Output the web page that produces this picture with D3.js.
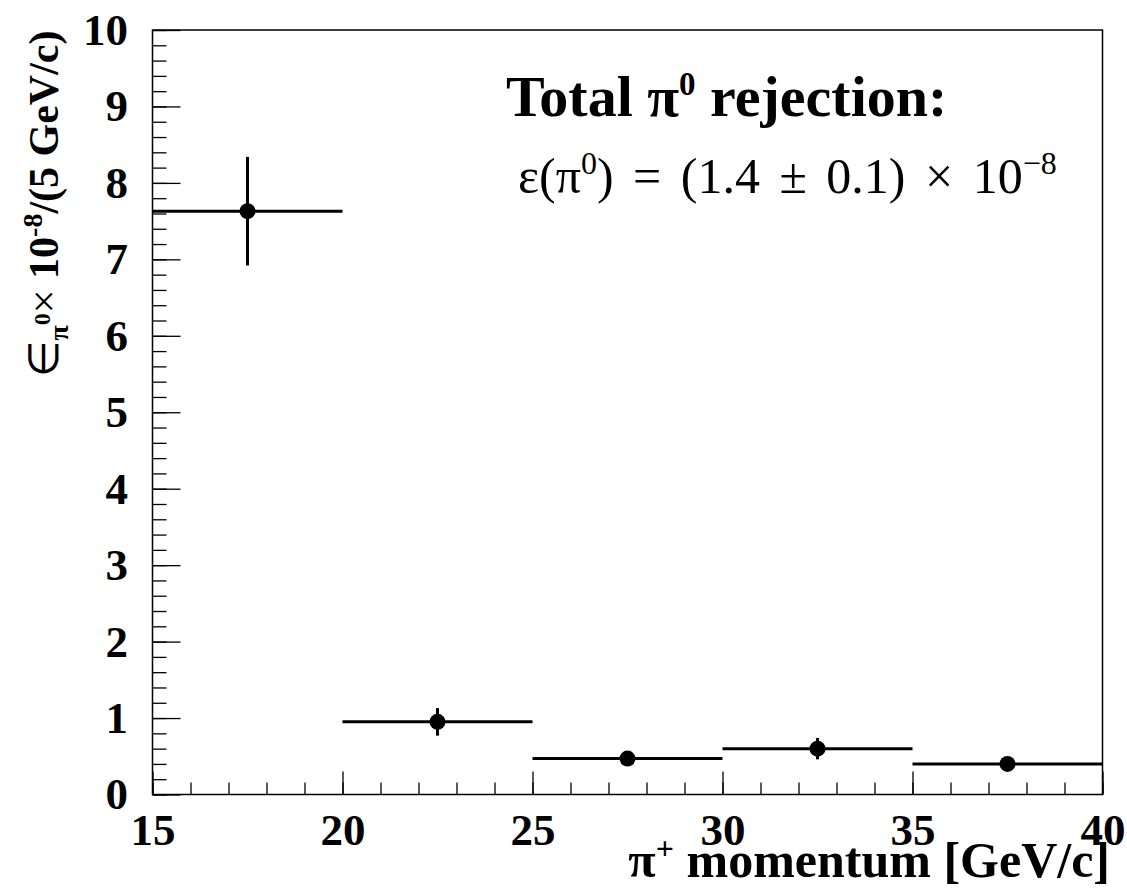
<!DOCTYPE html>
<html>
<head>
<meta charset="utf-8">
<script src="https://cdn.jsdelivr.net/npm/d3@7"></script>
<style>
  body { margin: 0; background: #fff; }
  svg { display: block; }
  .axis text { font-family: "Liberation Serif", "Times New Roman", serif; font-weight: bold; font-size: 45px; fill: #000; }
  .axis line { stroke: #000; stroke-width: 1.3; }
  .axis .domain { display: none; }
  .title { font-family: "Liberation Serif", "Times New Roman", serif; fill: #000; }
</style>
</head>
<body>
<div id="vis"></div>
<script>
// bins of pi+ momentum (GeV/c)
var binLow = [15, 20, 25, 30, 35];
var binHigh = [20, 25, 30, 35, 40];
// pi0 rejection per bin (x 10^-8) and its error
var values = [7.63, 0.95, 0.47, 0.60, 0.40];
var errors = [0.71, 0.18, 0.08, 0.14, 0.07];
// tick labels
var xTicks = [15, 20, 25, 30, 35, 40];
var yTicks = [0, 1, 2, 3, 4, 5, 6, 7, 8, 9, 10];

var width = 1127;
var height = 895;
var margin = { top: 30, left: 152.5, bottom: 100.5, right: 24.5 };
var innerW = width - margin.left - margin.right;
var innerH = height - margin.top - margin.bottom;

var svg = d3.select('#vis').append('svg')
  .attr('width', width)
  .attr('height', height);

var g = svg.append('g')
  .attr('transform', 'translate(' + margin.left + ',' + margin.top + ')');

var x = d3.scaleLinear().domain([15, 40]).range([0, innerW]);
var y = d3.scaleLinear().domain([0, 10]).range([innerH, 0]);

// minor ticks first, then major ticks with labels
g.append('g')
  .attr('class', 'axis')
  .attr('transform', 'translate(0,' + innerH + ')')
  .call(d3.axisBottom(x).tickValues(d3.range(15, 41, 1)).tickSizeInner(-12).tickSizeOuter(0).tickFormat(''));

g.append('g')
  .attr('class', 'axis')
  .attr('transform', 'translate(0,' + innerH + ')')
  .call(d3.axisBottom(x).tickValues(xTicks).tickSizeInner(-23).tickSizeOuter(0).tickPadding(19));

g.append('g')
  .attr('class', 'axis')
  .call(d3.axisLeft(y).tickValues(d3.range(0, 10.01, 0.2)).tickSizeInner(-14).tickSizeOuter(0).tickFormat(''));

g.append('g')
  .attr('class', 'axis')
  .call(d3.axisLeft(y).tickValues(yTicks).tickSizeInner(-28).tickSizeOuter(0).tickPadding(24.5));

// frame
g.append('rect')
  .attr('width', innerW)
  .attr('height', innerH)
  .attr('fill', 'none')
  .attr('stroke', '#000')
  .attr('stroke-width', 1.5);

// data points with bin width and error bars
var pts = g.append('g').selectAll('g')
  .data(values)
  .enter().append('g');

pts.append('line')
  .attr('x1', function(d, i) { return x(binLow[i]); })
  .attr('x2', function(d, i) { return x(binHigh[i]); })
  .attr('y1', function(d) { return y(d); })
  .attr('y2', function(d) { return y(d); })
  .attr('stroke', '#000')
  .attr('stroke-width', 3);

pts.append('line')
  .attr('x1', function(d, i) { return x((binLow[i] + binHigh[i]) / 2); })
  .attr('x2', function(d, i) { return x((binLow[i] + binHigh[i]) / 2); })
  .attr('y1', function(d, i) { return y(d - errors[i]); })
  .attr('y2', function(d, i) { return y(d + errors[i]); })
  .attr('stroke', '#000')
  .attr('stroke-width', 3);

pts.append('circle')
  .attr('cx', function(d, i) { return x((binLow[i] + binHigh[i]) / 2); })
  .attr('cy', function(d) { return y(d); })
  .attr('r', 8)
  .attr('fill', '#000');

// x title
var xt = svg.append('text')
  .attr('class', 'title')
  .attr('x', 1110)
  .attr('y', 877)
  .attr('text-anchor', 'end')
  .style('font-weight', 'bold')
  .style('font-size', '50px');
xt.append('tspan').text('π');
xt.append('tspan').attr('dy', -18).style('font-size', '32px').text('+');
xt.append('tspan').attr('dy', 18).text(' momentum [GeV/c]');

// y title
var yt = svg.append('text')
  .attr('class', 'title')
  .attr('transform', 'translate(58,204) rotate(-90)')
  .attr('text-anchor', 'middle')
  .style('font-size', '42px');
yt.append('tspan').text('∈');
yt.append('tspan').attr('dy', 10).style('font-size', '28px').style('font-weight', 'bold').text('π');
yt.append('tspan').attr('dy', -18).style('font-size', '24px').style('font-weight', 'bold').text('0');
yt.append('tspan').attr('dy', 8).text('×');
yt.append('tspan').style('font-weight', 'bold').text(' 10');
yt.append('tspan').attr('dy', -16).style('font-size', '28px').style('font-weight', 'bold').text('-8');
yt.append('tspan').attr('dy', 16).style('font-weight', 'bold').text('/(5 GeV/c)');

// annotation
var t1 = svg.append('text')
  .attr('class', 'title')
  .attr('x', 506)
  .attr('y', 116)
  .style('font-weight', 'bold')
  .style('font-size', '58px');
t1.append('tspan').text('Total π');
t1.append('tspan').attr('dy', -21).style('font-size', '33px').text('0');
t1.append('tspan').attr('dy', 21).text(' rejection:');

var t2 = svg.append('text')
  .attr('class', 'title')
  .attr('x', 518)
  .attr('y', 193)
  .style('font-size', '50px')
  .style('word-spacing', '7px');
t2.append('tspan').text('ε(π');
t2.append('tspan').attr('dy', -19).style('font-size', '32px').text('0');
t2.append('tspan').attr('dy', 19).text(') = (1.4 ± 0.1) × 10');
t2.append('tspan').attr('dy', -19).style('font-size', '32px').text('−8');
</script>
</body>
</html>
